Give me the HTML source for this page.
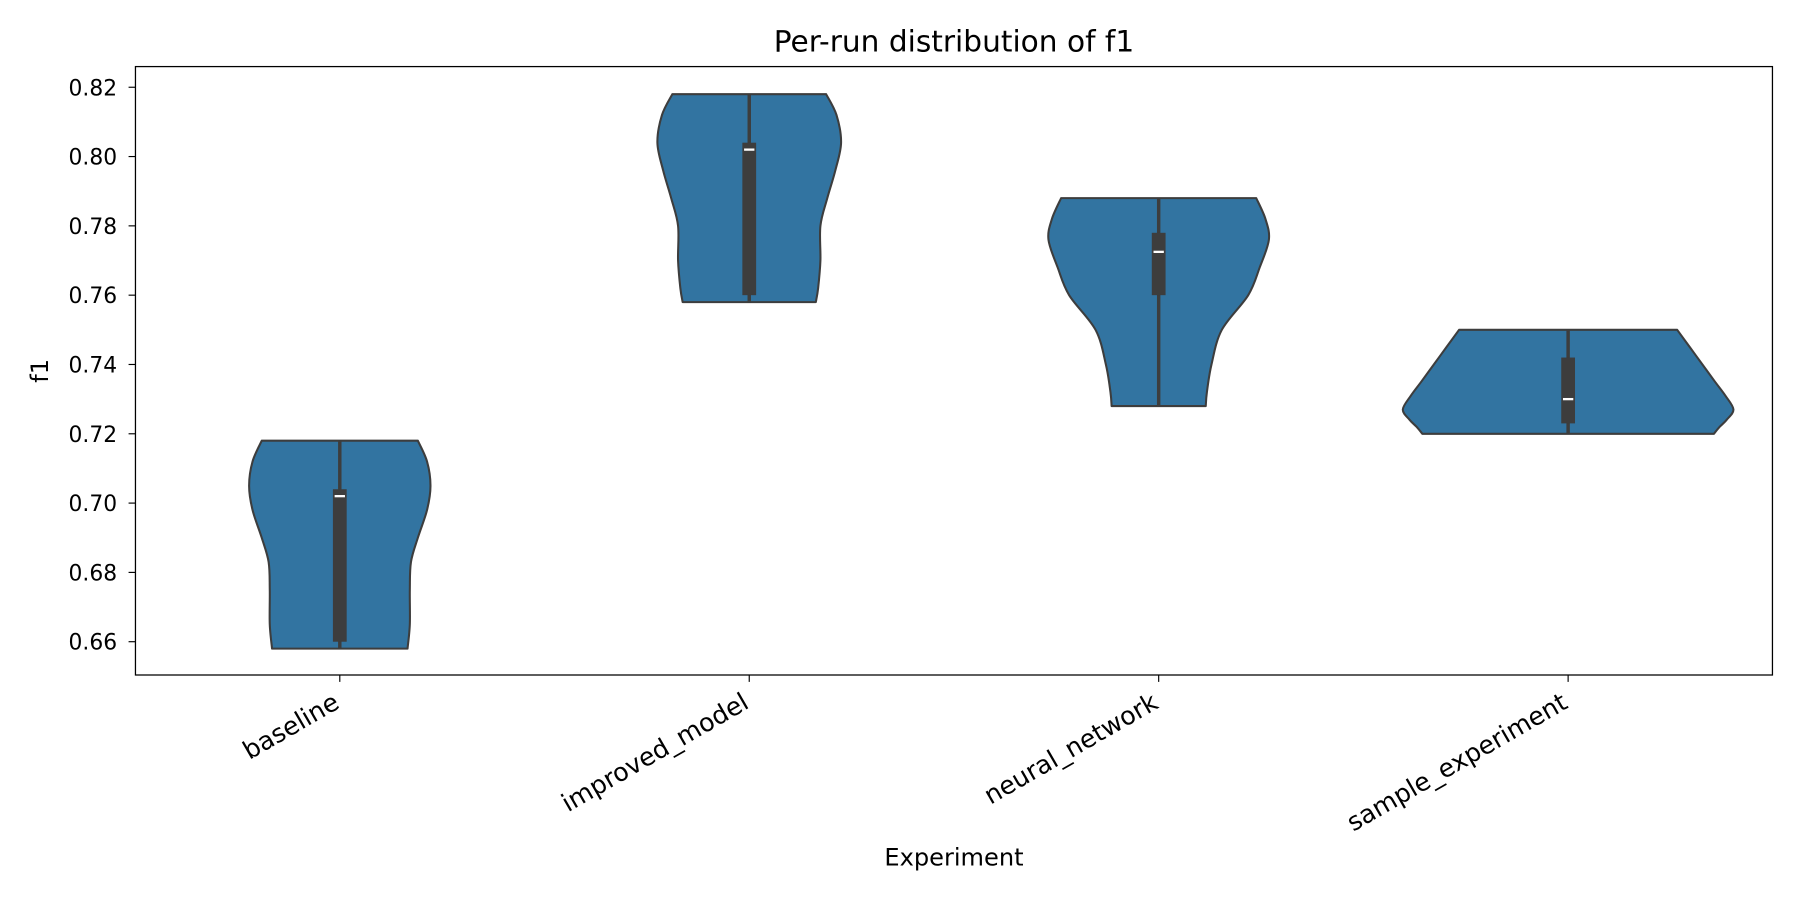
<!DOCTYPE html>
<html><head><meta charset="utf-8"><style>
html,body{margin:0;padding:0;background:#fff}
svg{display:block;font-family:"DejaVu Sans","Liberation Sans",sans-serif}
</style></head><body>
<svg id="chart" width="1800" height="900" viewBox="0 0 1568 784" preserveAspectRatio="none" xmlns="http://www.w3.org/2000/svg">
<rect x="0" y="0" width="1568" height="784" fill="#fff"/>
<text x="831" y="45" font-size="25.8" text-anchor="middle" fill="#000">Per-run distribution of f1</text>
<g id="plot"></g>
<rect x="118" y="58" width="1426" height="530" fill="none" stroke="#000" stroke-width="1.1"/>
<text x="831" y="754" font-size="21" text-anchor="middle" fill="#000">Experiment</text>
<text transform="translate(42,323) rotate(-90)" font-size="21" text-anchor="middle" fill="#000">f1</text>
</svg>
<script>
const categories = ["baseline","improved_model","neural_network","sample_experiment"];
const yTicks = [0.66,0.68,0.70,0.72,0.74,0.76,0.78,0.80,0.82];
const mins = [0.658,0.758,0.728,0.720];
const maxs = [0.718,0.818,0.788,0.750];
const q1s = [0.660,0.760,0.760,0.723];
const q3s = [0.704,0.804,0.778,0.742];
const medians = [0.702,0.802,0.7725,0.730];
// density profiles: value levels (top to bottom) and relative half-widths
const profileLevels = [
  [0.718,0.712,0.705,0.698,0.690,0.683,0.675,0.665,0.658],
  [0.818,0.812,0.804,0.796,0.788,0.780,0.770,0.762,0.758],
  [0.788,0.782,0.776,0.768,0.760,0.750,0.740,0.732,0.728],
  [0.750,0.745,0.740,0.735,0.731,0.727,0.724,0.722,0.720]
];
const profileWidths = [
  [68,76,79,76,68,62,61,61,59],
  [67,76,80,75,68,62,62,60,58],
  [85,93,96,88,78,55,46,42,41],
  [95,106,117,128,137,144,138,132,127]
];
const svgNS="http://www.w3.org/2000/svg";
const plot=document.getElementById('plot');
const X0=118,X1=1544,Y0=58,Y1=588;
function yScale(v){return 559-(v-0.66)/0.02*60.375;}
function xScale(i){return 296+i*356.67;}
function mk(tag,attrs){const e=document.createElementNS(svgNS,tag);for(const k in attrs)e.setAttribute(k,attrs[k]);return e;}
yTicks.forEach(t=>{
  const y=yScale(t);
  const l=mk('line',{x1:X0-6,x2:X0,y1:y,y2:y,stroke:'#000','stroke-width':1});
  
  
  plot.appendChild(l);
  const tx=mk('text',{x:X0-16,y:y+7,'font-size':19,'text-anchor':'end',fill:'#000'});
  
  
  tx.textContent=t.toFixed(2);plot.appendChild(tx);
});
function smooth(pts){
  let d='M'+pts[0][0]+','+pts[0][1];
  for(let i=0;i<pts.length-1;i++){
    const p0=pts[Math.max(0,i-1)],p1=pts[i],p2=pts[i+1],p3=pts[Math.min(pts.length-1,i+2)];
    const c1=[p1[0]+(p2[0]-p0[0])/6,p1[1]+(p2[1]-p0[1])/6];
    const c2=[p2[0]-(p3[0]-p1[0])/6,p2[1]-(p3[1]-p1[1])/6];
    d+=' C'+c1[0]+','+c1[1]+' '+c2[0]+','+c2[1]+' '+p2[0]+','+p2[1];
  }
  return d;
}
categories.forEach((c,i)=>{
  const cx=xScale(i);
  const lv=profileLevels[i].slice(),w=profileWidths[i];
  lv[0]=maxs[i];lv[lv.length-1]=mins[i];
  const right=lv.map((v,k)=>[cx+w[k],yScale(v)]);
  const left=lv.map((v,k)=>[cx-w[k],yScale(v)]).reverse();
  let d=smooth(right);
  d+=' L'+left[0][0]+','+left[0][1]+smooth(left).replace(/^M[^ C]+/,'')+' Z';
  const p=mk('path',{d:d,fill:'#3274a1',stroke:'#3d3d3d','stroke-width':1.8,'stroke-linejoin':'round'});
  
  
  plot.appendChild(p);
  const wh=mk('line',{x1:cx,x2:cx,y1:yScale(maxs[i]),y2:yScale(mins[i]),stroke:'#3d3d3d','stroke-width':3});
  
  
  plot.appendChild(wh);
  const bx=mk('rect',{x:cx-6,y:yScale(q3s[i]),width:12,height:yScale(q1s[i])-yScale(q3s[i]),fill:'#3d3d3d'});
  
  
  plot.appendChild(bx);
  const md=mk('line',{x1:cx-4.5,x2:cx+4.5,y1:yScale(medians[i]),y2:yScale(medians[i]),stroke:'#fff','stroke-width':2});
  
  
  plot.appendChild(md);
  const tk=mk('line',{x1:cx,x2:cx,y1:Y1,y2:Y1+6,stroke:'#000','stroke-width':1});
  
  
  plot.appendChild(tk);
  const tl=mk('text',{transform:'translate('+(cx+1)+','+(Y1+28)+') rotate(-30)','font-size':22,'text-anchor':'end',fill:'#000'});
  
  
  tl.textContent=c;plot.appendChild(tl);
});
</script>
</body></html>
